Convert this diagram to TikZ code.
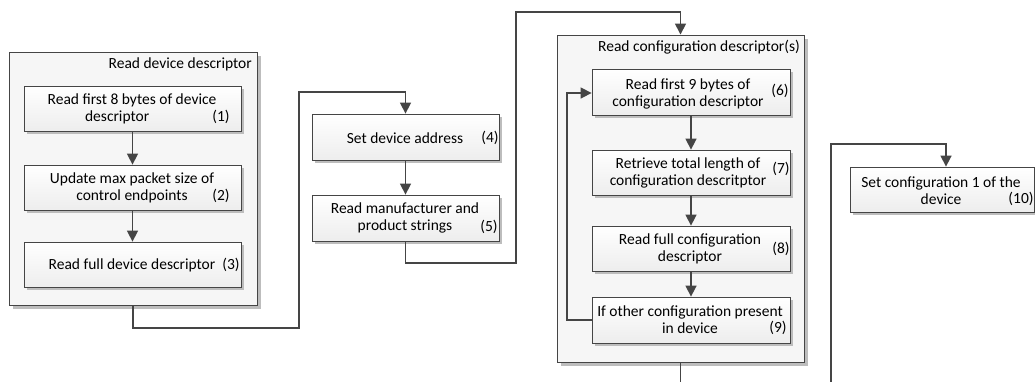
\documentclass[tikz,border=0pt]{standalone}
\usepackage{fontspec}
\setmainfont{Carlito}
\usetikzlibrary{arrows.meta,shadows,fit}
\definecolor{edge}{HTML}{454545}
\definecolor{shd}{HTML}{BDBDBD}
\begin{document}
\begin{tikzpicture}[x=1pt,y=-1pt,
  grp/.style={draw=edge, line width=0.9pt, fill=gray!7, inner sep=0pt,
    drop shadow={shadow xshift=3.5pt,shadow yshift=-3.5pt,fill=shd,opacity=1}},
  box/.style={draw=edge, line width=0.8pt, top color=white, bottom color=gray!14, inner sep=0pt,
    drop shadow={shadow xshift=3pt,shadow yshift=-3pt,fill=shd,opacity=1}},
  txt/.style={font=\fontsize{15.5}{17}\selectfont, align=center, inner sep=0pt, text=black},
  arr/.style={draw=edge, line width=1.5pt, -{Triangle[length=11pt,width=11pt]}}]
\useasboundingbox (0,0) rectangle (1035,381);
\clip (0,0) rectangle (1035,381);

% group 1
\node[grp, fit={(9,52) (257,305)}] (g1) {};
\node[txt, anchor=east] (t1) at (252,64) {Read device descriptor};
\node[box, fit={(24,86) (241,131)}] (b1) {};
\node[txt] (x1) at (132,108.5) {Read first 8 bytes of device\\descriptor\phantom{aaaa}};
\node[txt] (n1) at (221,117) {(1)};
\node[box, fit={(24,165) (241,210)}] (b2) {};
\node[txt] (x2) at (132,187.5) {Update max packet size of\\control endpoints};
\node[txt] (n2) at (221,196) {(2)};
\node[box, fit={(24,242) (241,287)}] (b3) {};
\node[txt] (x3) at (132,265) {Read full device descriptor};
\node[txt] (n3) at (231,265) {(3)};

% middle boxes
\node[box, fit={(312,114) (499,160)}] (b4) {};
\node[txt] (x4) at (405,138) {Set device address};
\node[txt] (n4) at (490,138) {(4)};
\node[box, fit={(312,195) (499,241)}] (b5) {};
\node[txt] (x5) at (405,218) {Read manufacturer and\\product strings};
\node[txt] (n5) at (489,227) {(5)};

% group 2
\node[grp, fit={(557,35) (804,362)}] (g2) {};
\node[txt, anchor=east] (t2) at (800,47) {Read configuration descriptor(s)};
\node[box, fit={(592,69) (790,115)}] (b6) {};
\node[txt] (x6) at (688,93.5) {Read first 9 bytes of\\configuration descriptor};
\node[txt] (n6) at (780,91) {(6)};
\node[box, fit={(592,150) (790,195)}] (b7) {};
\node[txt] (x7) at (688,173) {Retrieve total length of\\configuration descritptor};
\node[txt] (n7) at (781,169) {(7)};
\node[box, fit={(592,226) (790,271)}] (b8) {};
\node[txt] (x8) at (690,249) {Read full configuration\\descriptor};
\node[txt] (n8) at (781,249) {(8)};
\node[box, fit={(592,297) (790,343)}] (b9) {};
\node[txt] (x9) at (690,320) {If other configuration present\\in device};
\node[txt] (n9) at (778,328) {(9)};

% box 10
\node[box, fit={(850,167) (1034,212)}] (b10) {};
\node[txt] (x10) at (941,190.5) {Set configuration 1 of the\\device};
\node[txt] (n10) at (1021,199) {(10)};

% connectors
\draw[arr] (b1) -- (b2);
\draw[arr] (b2) -- (b3);
\draw[arr] (g1.south) -- (133,328) -- (299,328) -- (299,92) -- (405.5,92) -- (b4.north);
\draw[arr] (b4) -- (b5);
\draw[arr] (b5.south) -- (405.5,263) -- (516,263) -- (516,12) -- (680.5,12) -- (g2.north);
\draw[arr] (b6) -- (b7);
\draw[arr] (b7) -- (b8);
\draw[arr] (b8) -- (b9);
\draw[arr] (b9.west |- 0,320) -- (567,320) -- (567,93) -- (b6.west |- 0,93);
\draw[arr] (g2.south) -- (680.5,420) -- (831,420) -- (831,144) -- (946,144) -- (b10.north -| 946,0);
\end{tikzpicture}
\end{document}
